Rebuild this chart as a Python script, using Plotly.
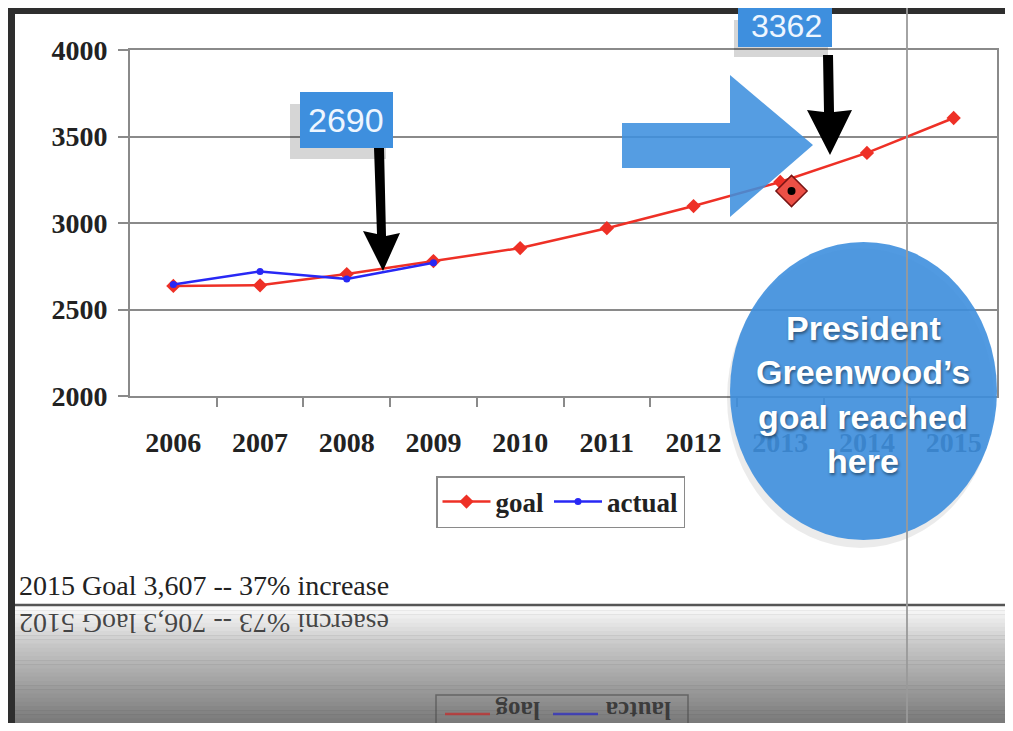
import plotly.graph_objects as go

# data
years = [2006, 2007, 2008, 2009, 2010, 2011, 2012, 2013, 2014, 2015]
goal = [2636, 2640, 2705, 2780, 2855, 2970, 3098, 3237, 3405, 3607]
actual_years = [2006, 2007, 2008, 2009]
actual = [2645, 2720, 2676, 2770]
reached_year = [2013.13]
reached_value = [3185]
y_ticks = [2000, 2500, 3000, 3500, 4000]

# the page puts the figure 8px in from the corner, so work in page pixels
OFF = 8
W, H = 1013 - 2 * OFF, 731 - 2 * OFF


def px(x):
    return (x - OFF) / W


def py(y):
    return 1 - (y - OFF) / H


BLUE = "rgb(62,143,222)"
SERIF = "Liberation Serif"
SANS = "Liberation Sans"

fig = go.Figure()
fig.add_trace(go.Scatter(x=years, y=goal, name="goal", mode="lines+markers",
                         line=dict(color="rgb(238,48,38)", width=2.5),
                         marker=dict(symbol="diamond", size=11, color="rgb(238,48,38)")))
fig.add_trace(go.Scatter(x=actual_years, y=actual, name="actual", mode="lines+markers",
                         line=dict(color="rgb(40,40,245)", width=2.5),
                         marker=dict(symbol="circle", size=7, color="rgb(40,40,245)")))
fig.add_trace(go.Scatter(x=reached_year, y=reached_value, mode="markers", showlegend=False,
                         marker=dict(symbol="diamond", size=24, color="rgb(236,80,70)",
                                     line=dict(color="rgb(120,20,20)", width=1.5))))
fig.add_trace(go.Scatter(x=reached_year, y=reached_value, mode="markers", showlegend=False,
                         marker=dict(symbol="circle", size=8, color="black")))

shapes = []
# white slide on the dark textured background
shapes.append(dict(type="rect", xref="paper", yref="paper", x0=px(15), x1=1.01, y0=py(605), y1=py(14),
                   fillcolor="white", line_width=0, layer="below"))
# reflection gradient under the slide
n = 30
for i in range(n):
    t = i / (n - 1)
    if t < 0.3:
        c = int(250 - (250 - 200) * t / 0.3)
    else:
        c = int(200 - (200 - 115) * (t - 0.3) / 0.7)
    y0 = 606 + i * (125 / n)
    shapes.append(dict(type="rect", xref="paper", yref="paper", x0=px(15), x1=1.01,
                       y0=py(y0 + 125 / n + 0.5), y1=py(y0), fillcolor=f"rgb({c},{c},{c})",
                       line_width=0, layer="below"))
shapes.append(dict(type="line", xref="paper", yref="paper", x0=px(15), x1=1.01, y0=py(605), y1=py(605),
                   line=dict(color="#555", width=2.5), layer="above"))

# reflected legend box
shapes.append(dict(type="rect", xref="paper", yref="paper", x0=px(436), x1=px(688), y0=py(740), y1=py(695),
                   fillcolor="rgba(0,0,0,0)", line=dict(color="rgba(70,70,70,0.6)", width=1.5), layer="above"))
shapes.append(dict(type="line", xref="paper", yref="paper", x0=px(445), x1=px(490), y0=py(714), y1=py(714),
                   line=dict(color="rgba(200,40,40,0.7)", width=2.5), layer="above"))
shapes.append(dict(type="line", xref="paper", yref="paper", x0=px(553), x1=px(598), y0=py(714), y1=py(714),
                   line=dict(color="rgba(40,40,200,0.7)", width=2.5), layer="above"))

# box "2690" with shadow
shapes.append(dict(type="rect", xref="paper", yref="paper", x0=px(290), x1=px(386), y0=py(159), y1=py(104),
                   fillcolor="rgba(0,0,0,0.16)", line_width=0, layer="above"))
shapes.append(dict(type="rect", xref="paper", yref="paper", x0=px(300), x1=px(393), y0=py(148), y1=py(92),
                   fillcolor=BLUE, line_width=0, layer="above"))
# box "3362" with shadow
shapes.append(dict(type="rect", xref="paper", yref="paper", x0=px(734), x1=px(828), y0=py(57), y1=py(20),
                   fillcolor="rgba(0,0,0,0.16)", line_width=0, layer="above"))
shapes.append(dict(type="rect", xref="paper", yref="paper", x0=px(738), x1=px(832), y0=py(47), y1=py(-10),
                   fillcolor=BLUE, line_width=0, layer="above"))


def path(pts):
    return "M " + " L ".join(f"{px(x)},{py(y)}" for x, y in pts) + " Z"


# black arrows
shapes.append(dict(type="path", xref="paper", yref="paper", layer="above", fillcolor="black", line_width=0,
                   path=path([(374, 148), (384, 148), (386, 236), (400, 233), (383, 271), (363, 231), (377, 234)])))
shapes.append(dict(type="path", xref="paper", yref="paper", layer="above", fillcolor="black", line_width=0,
                   path=path([(823, 55), (833, 55), (834, 112), (852, 110), (830, 155), (807, 110), (824, 112)])))
# big blue arrow
shapes.append(dict(type="path", xref="paper", yref="paper", layer="above", fillcolor=BLUE, opacity=0.88,
                   line_width=0,
                   path=path([(622, 123), (730, 123), (730, 75), (813, 145), (730, 217), (730, 168), (622, 168)])))
# circle with a soft shadow
shapes.append(dict(type="circle", xref="paper", yref="paper", layer="above", x0=px(727), x1=px(994),
                   y0=py(548), y1=py(248), fillcolor="rgba(0,0,0,0.08)", line_width=0))
shapes.append(dict(type="circle", xref="paper", yref="paper", layer="above", x0=px(730), x1=px(997),
                   y0=py(540), y1=py(242), fillcolor=BLUE, opacity=0.9, line_width=0))
shapes.append(dict(type="line", xref="paper", yref="paper", x0=px(907), x1=px(907), y0=-0.02, y1=1.02,
                   line=dict(color="#9a9a9a", width=1.8), layer="above"))

annotations = []


def note_text(text, x, y, font, **kw):
    d = dict(text=text, x=px(x), y=py(y), xref="paper", yref="paper", showarrow=False,
             xanchor="center", yanchor="middle", font=font)
    d.update(kw)
    annotations.append(d)


note_text("2690", 346, 120, dict(family=SANS, size=34, color="#eef6ff"))
note_text("3362", 786, 26, dict(family=SANS, size=32, color="#eef6ff"))
for line, yy in zip(["President", "Greenwood’s", "goal reached", "here"], [328, 372, 417, 461]):
    note_text(line, 863, yy, dict(family=SANS, size=34, color="white", weight="bold",
                                  shadow="1px 2px 3px rgba(0,0,0,0.45)"))
note = "2015 Goal 3,607 -- 37% increase"
note_text(note, 17, 585, dict(family=SERIF, size=28, color="#222"), xanchor="left")
note_text(note[::-1], 17, 624, dict(family=SERIF, size=28, color="rgba(40,40,40,0.85)"),
          xanchor="left", textangle=180)
note_text("goal"[::-1], 493, 711, dict(family=SERIF, size=25, color="rgba(40,40,40,0.8)", weight="bold"),
          xanchor="left", textangle=180)
note_text("actual"[::-1], 603, 711, dict(family=SERIF, size=25, color="rgba(40,40,40,0.8)", weight="bold"),
          xanchor="left", textangle=180)

fig.update_layout(
    width=W, height=H, margin=dict(l=0, r=0, t=0, b=0, autoexpand=False),
    paper_bgcolor="#2e2e2e", plot_bgcolor="rgba(0,0,0,0)",
    shapes=shapes, annotations=annotations,
    legend=dict(orientation="h", x=px(436), y=py(476), xanchor="left", yanchor="top",
                bgcolor="white", bordercolor="#8a8a8a", borderwidth=1.5,
                font=dict(family=SERIF, size=27, color="#222", weight="bold"), itemwidth=48),
    xaxis=dict(domain=[px(130), px(997)], range=[2005.5, 2015.5], tickvals=years,
               ticktext=[str(y) for y in years], ticks="", showgrid=False, zeroline=False,
               showline=True, linecolor="#8a8a8a", linewidth=2, mirror=True, ticklabelstandoff=20,
               automargin=False,
               tickfont=dict(family=SERIF, size=28, color="#222", weight="bold"),
               minor=dict(tickvals=[y + 0.5 for y in years[:-1]], ticks="outside", ticklen=9,
                          tickcolor="#8a8a8a", tickwidth=1.5, showgrid=False)),
    yaxis=dict(domain=[py(396), py(50)], range=[2000, 4000], tickvals=y_ticks, ticks="outside",
               ticklen=10, tickcolor="#8a8a8a", tickwidth=1.5, gridcolor="#8a8a8a", gridwidth=1.5,
               showline=True, linecolor="#8a8a8a", linewidth=2, mirror=True, zeroline=False,
               ticklabelstandoff=5, automargin=False,
               tickfont=dict(family=SERIF, size=28, color="#222", weight="bold")),
)

fig.write_html("out.html")
